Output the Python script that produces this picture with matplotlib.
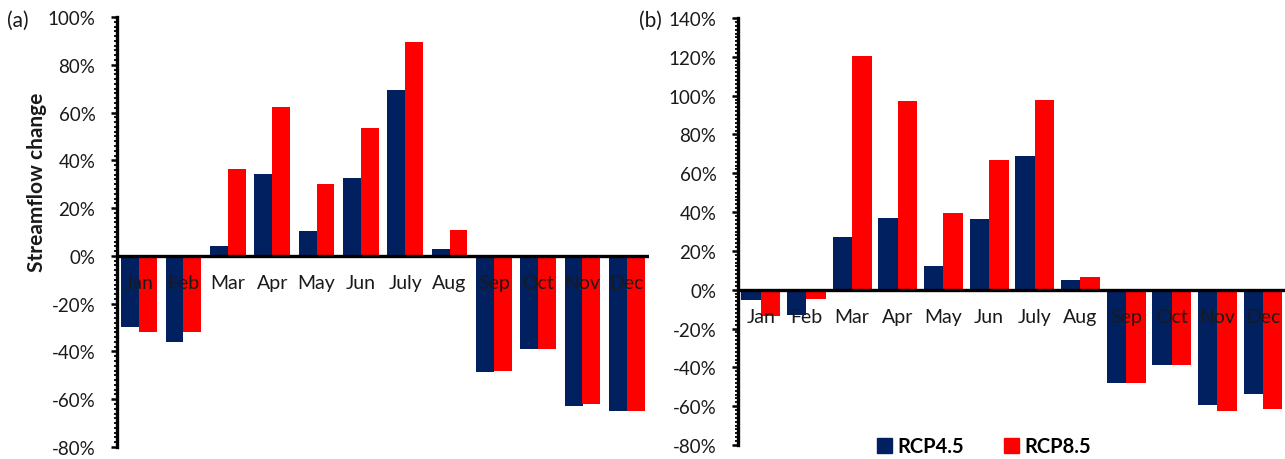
import matplotlib.pyplot as plt
from matplotlib.ticker import MultipleLocator, AutoMinorLocator, FuncFormatter
from matplotlib.patches import Patch

plt.rcParams['font.family'] = ['Lato', 'DejaVu Sans']

months = ['Jan', 'Feb', 'Mar', 'Apr', 'May', 'Jun', 'July', 'Aug', 'Sep', 'Oct', 'Nov', 'Dec']

# streamflow change (%) per month, panel (a)
a_rcp45 = [-29.7, -36.0, 4.2, 34.4, 10.4, 32.6, 69.3, 2.9, -48.4, -38.9, -62.8, -64.9]
a_rcp85 = [-31.8, -31.8, 36.4, 62.2, 29.9, 53.5, 89.4, 11.0, -48.1, -38.9, -61.9, -64.9]

# streamflow change (%) per month, panel (b)
b_rcp45 = [-5.1, -12.9, 27.4, 37.0, 12.0, 36.5, 68.7, 5.1, -48.0, -38.6, -59.5, -53.5]
b_rcp85 = [-13.5, -5.0, 120.5, 97.3, 39.6, 66.7, 97.8, 6.7, -48.3, -38.6, -62.4, -61.2]

navy = '#002060'
red = '#ff0000'
ink = '#1a1a1a'

fig = plt.figure(figsize=(12.85, 4.6), dpi=100)
ax_a = fig.add_axes([117 / 1285, 12 / 460, 532 / 1285, 430 / 460])
ax_b = fig.add_axes([738 / 1285, 14 / 460, 547 / 1285, 427 / 460])


def draw_panel(ax, v45, v85, ymin, ymax, bar_w, xmax):
    x = list(range(len(months)))
    ax.bar([i - bar_w / 2 for i in x], v45, width=bar_w, color=navy, zorder=2)
    ax.bar([i + bar_w / 2 for i in x], v85, width=bar_w, color=red, zorder=2)
    ax.axhline(0, color='black', lw=2.4, zorder=3)
    for i, m in enumerate(months):
        ax.annotate(m, xy=(i, 0), xytext=(0, -19.5), textcoords='offset points',
                    ha='center', va='center', fontsize=14, color=ink, zorder=4)
    ax.set_xlim(-0.5, xmax)
    ax.set_ylim(ymin, ymax)
    ax.yaxis.set_major_locator(MultipleLocator(20))
    ax.yaxis.set_minor_locator(AutoMinorLocator(10))
    ax.yaxis.set_major_formatter(FuncFormatter(lambda v, p: f'{int(round(v))}%'))
    ax.tick_params(axis='y', which='major', direction='out', length=4.5, width=1.8,
                   labelsize=13.5, labelcolor=ink, pad=11)
    ax.tick_params(axis='y', which='minor', direction='out', length=2.5, width=1.3)
    ax.set_xticks([])
    for s in ['top', 'right', 'bottom']:
        ax.spines[s].set_visible(False)
    ax.spines['left'].set_linewidth(2.4)
    ax.spines['left'].set_bounds(ymin, ymax)
    ax.patch.set_alpha(0)


draw_panel(ax_a, a_rcp45, a_rcp85, -80, 100, 0.4, 11.5)
draw_panel(ax_b, b_rcp45, b_rcp85, -80, 140, 0.425, 11.48)

fig.text(37 / 1285, 1 - 182 / 460, 'Streamflow change', rotation=90, ha='center', va='center',
         fontsize=15, fontweight='bold', color=ink)
fig.text(7 / 1285, 1 - 21 / 460, '(a)', ha='left', va='center', fontsize=15, color=ink)
fig.text(639 / 1285, 1 - 21 / 460, '(b)', ha='left', va='center', fontsize=15, color=ink)

handles = [Patch(color=navy, label='RCP4.5'), Patch(color=red, label='RCP8.5')]
fig.legend(handles=handles, loc='center', bbox_to_anchor=(984 / 1285, 1 - 447.5 / 460),
           ncol=2, frameon=False, handlelength=0.75, handleheight=0.75, handletextpad=0.25,
           columnspacing=2.0, prop={'size': 14.5, 'weight': 'bold'})

fig.savefig('out.png', dpi=100)
